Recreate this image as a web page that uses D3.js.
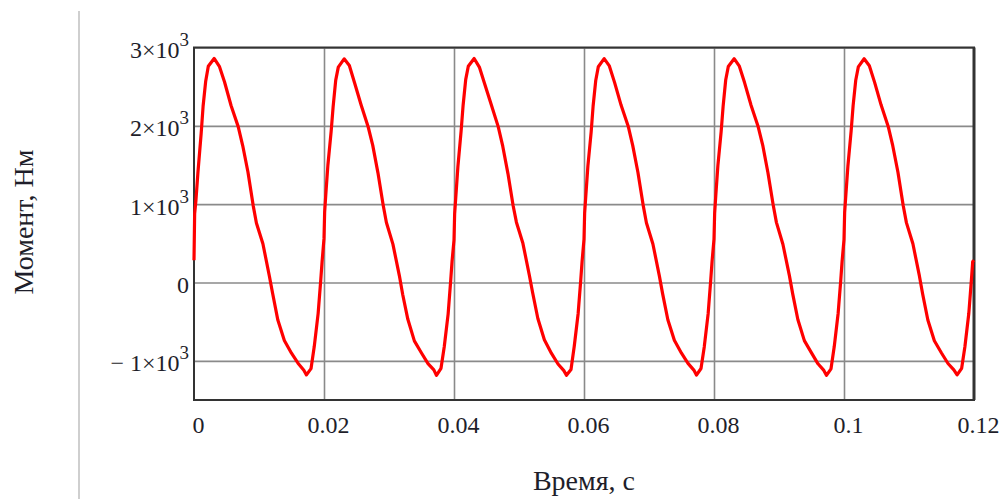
<!DOCTYPE html>
<html>
<head>
<meta charset="utf-8">
<script src="https://cdn.jsdelivr.net/npm/d3@7/dist/d3.min.js"></script>
<style>
  html, body { margin: 0; padding: 0; background: #fff; }
  svg { display: block; }
  text { font-family: "Liberation Serif", "Times New Roman", serif; fill: #1e1e2a; }
</style>
</head>
<body>
<svg id="chart" width="1002" height="499"></svg>
<script>
// ---- data (time in s, torque in N·m) ----
const time = [
  0, 0.0001, 0.0003, 0.0006, 0.0011, 0.0014, 0.0018, 0.0022, 0.0031, 0.0039, 0.0047, 0.0057, 0.0068, 0.0075, 0.0083, 0.0091, 0.0096, 0.0106, 0.0116, 0.0121, 0.0129, 0.0139, 0.0150, 0.0160, 0.0169, 0.0173, 0.0180, 0.0185, 0.0191, 0.0195, 0.0197,
  0.0200, 0.0201, 0.0203, 0.0206, 0.0211, 0.0214, 0.0218, 0.0222, 0.0231, 0.0239, 0.0247, 0.0257, 0.0268, 0.0275, 0.0283, 0.0291, 0.0296, 0.0306, 0.0316, 0.0321, 0.0329, 0.0339, 0.0350, 0.0360, 0.0369, 0.0373, 0.0380, 0.0385, 0.0391, 0.0395, 0.0397,
  0.0400, 0.0401, 0.0403, 0.0406, 0.0411, 0.0414, 0.0418, 0.0422, 0.0431, 0.0439, 0.0447, 0.0457, 0.0468, 0.0475, 0.0483, 0.0491, 0.0496, 0.0506, 0.0516, 0.0521, 0.0529, 0.0539, 0.0550, 0.0560, 0.0569, 0.0573, 0.0580, 0.0585, 0.0591, 0.0595, 0.0597,
  0.0600, 0.0601, 0.0603, 0.0606, 0.0611, 0.0614, 0.0618, 0.0622, 0.0631, 0.0639, 0.0647, 0.0657, 0.0668, 0.0675, 0.0683, 0.0691, 0.0696, 0.0706, 0.0716, 0.0721, 0.0729, 0.0739, 0.0750, 0.0760, 0.0769, 0.0773, 0.0780, 0.0785, 0.0791, 0.0795, 0.0797,
  0.0800, 0.0801, 0.0803, 0.0806, 0.0811, 0.0814, 0.0818, 0.0822, 0.0831, 0.0839, 0.0847, 0.0857, 0.0868, 0.0875, 0.0883, 0.0891, 0.0896, 0.0906, 0.0916, 0.0921, 0.0929, 0.0939, 0.0950, 0.0960, 0.0969, 0.0973, 0.0980, 0.0985, 0.0991, 0.0995, 0.0997,
  0.1000, 0.1001, 0.1003, 0.1006, 0.1011, 0.1014, 0.1018, 0.1022, 0.1031, 0.1039, 0.1047, 0.1057, 0.1068, 0.1075, 0.1083, 0.1091, 0.1096, 0.1106, 0.1116, 0.1121, 0.1129, 0.1139, 0.1150, 0.1160, 0.1169, 0.1174, 0.1181, 0.1186, 0.1192, 0.1196, 0.1198,
  0.1200
];
const torque = [
  284, 880, 1050, 1400, 1900, 2250, 2570, 2760, 2860, 2760, 2560, 2260, 1990, 1745, 1410, 985, 760, 495, 80, -140, -480, -740, -903, -1030, -1120, -1180, -1100, -818, -394, 29, 260,
  560, 900, 1150, 1500, 1930, 2240, 2580, 2750, 2855, 2770, 2550, 2270, 1985, 1750, 1400, 990, 765, 490, 85, -150, -470, -745, -900, -1035, -1115, -1185, -1095, -820, -400, 35, 270,
  540, 880, 1120, 1480, 1940, 2260, 2590, 2760, 2860, 2750, 2540, 2280, 1990, 1740, 1390, 980, 770, 500, 90, -130, -460, -730, -905, -1040, -1125, -1185, -1110, -815, -395, 30, 265,
  550, 890, 1130, 1490, 1920, 2250, 2575, 2755, 2858, 2765, 2555, 2265, 1995, 1748, 1405, 988, 762, 492, 82, -145, -475, -738, -902, -1032, -1118, -1182, -1098, -822, -398, 32, 268,
  555, 885, 1140, 1495, 1925, 2245, 2585, 2758, 2857, 2762, 2552, 2262, 1988, 1752, 1402, 992, 768, 488, 88, -142, -472, -742, -898, -1038, -1122, -1185, -1102, -818, -392, 28, 262,
  548, 895, 1135, 1485, 1935, 2255, 2578, 2752, 2856, 2768, 2558, 2268, 1992, 1746, 1408, 986, 764, 494, 84, -148, -478, -744, -900, -1034, -1116, -1180, -1096, -820, -396, 34, 266,
  284
];

const xTicks = [0, 0.02, 0.04, 0.06, 0.08, 0.1, 0.12];
const xTickLabels = ["0", "0.02", "0.04", "0.06", "0.08", "0.1", "0.12"];
const yTicks = [-1000, 0, 1000, 2000, 3000];
const yTickMantissa = ["\u2212 1\u00d710", "0", "1\u00d710", "2\u00d710", "3\u00d710"];
const yTickExponent = ["3", "", "3", "3", "3"];
const xTitle = "Время, с";
const yTitle = "Момент, Нм";

// ---- layout ----
const svg = d3.select("#chart");
const L = 194, R = 974, T = 47.5, B = 400;

const x = d3.scaleLinear().domain([0, 0.12]).range([L, R]);
const y = d3.scaleLinear().domain([-1500, 3000]).range([B, T]);

// separator line at left
svg.append("line")
  .attr("x1", 79).attr("x2", 79).attr("y1", 11).attr("y2", 499)
  .attr("stroke", "#cfcfcf").attr("stroke-width", 2);

// gridlines
const gx = svg.append("g").attr("transform", `translate(0,${B})`)
  .call(d3.axisBottom(x).tickValues(xTicks.slice(1, -1)).tickSize(-(B - T)).tickFormat(""));
gx.select(".domain").remove();
gx.selectAll("line").attr("stroke", "#8a8a8a").attr("stroke-width", 1.6);

const gy = svg.append("g").attr("transform", `translate(${L},0)`)
  .call(d3.axisLeft(y).tickValues(yTicks).tickSize(-(R - L)).tickFormat(""));
gy.select(".domain").remove();
gy.selectAll("line").attr("stroke", "#8a8a8a").attr("stroke-width", 1.6);

// frame
svg.append("rect")
  .attr("x", L).attr("y", T).attr("width", R - L).attr("height", B - T)
  .attr("fill", "none").attr("stroke", "#333").attr("stroke-width", 2);
svg.append("line").attr("x1", R).attr("x2", R).attr("y1", T).attr("y2", B)
  .attr("stroke", "#333").attr("stroke-width", 3);

// x tick labels
const ax = svg.append("g").attr("transform", `translate(0,${B})`)
  .call(d3.axisBottom(x).tickValues(xTicks).tickSize(0).tickFormat((d, i) => xTickLabels[i]));
ax.select(".domain").remove();
ax.selectAll("text")
  .attr("y", 33).attr("dy", 0).attr("dx", 4)
  .style("font-size", "24px").style("fill", "#1e1e2a")
  .style("font-family", "'Liberation Serif', 'Times New Roman', serif");

// y tick labels
const ay = svg.append("g").attr("transform", `translate(${L},0)`)
  .call(d3.axisLeft(y).tickValues(yTicks).tickSize(0).tickFormat(""));
ay.select(".domain").remove();
ay.selectAll(".tick").each(function (d, i) {
  const t = d3.select(this).select("text")
    .attr("x", -5).attr("dy", 0).attr("y", 10)
    .attr("text-anchor", "end")
    .style("font-size", "24px").style("fill", "#1e1e2a")
    .style("font-family", "'Liberation Serif', 'Times New Roman', serif");
  t.text(null);
  t.append("tspan").text(yTickMantissa[i]);
  if (yTickExponent[i]) {
    t.append("tspan").attr("dy", -12).style("font-size", "19px").text(yTickExponent[i]);
  }
});

// axis titles
svg.append("text")
  .attr("x", (L + R) / 2).attr("y", 490)
  .attr("text-anchor", "middle")
  .style("font-size", "28px")
  .text(xTitle);

svg.append("text")
  .attr("transform", "translate(33,222) rotate(-90)")
  .attr("text-anchor", "middle")
  .style("font-size", "28px")
  .text(yTitle);

// series
const pts = time.map((t, i) => [t, torque[i]]);
svg.append("path")
  .datum(pts)
  .attr("fill", "none")
  .attr("stroke", "#ff0000")
  .attr("stroke-width", 3.2)
  .attr("stroke-linejoin", "round")
  .attr("d", d3.line().x(d => x(d[0])).y(d => y(d[1])));
</script>
</body>
</html>
